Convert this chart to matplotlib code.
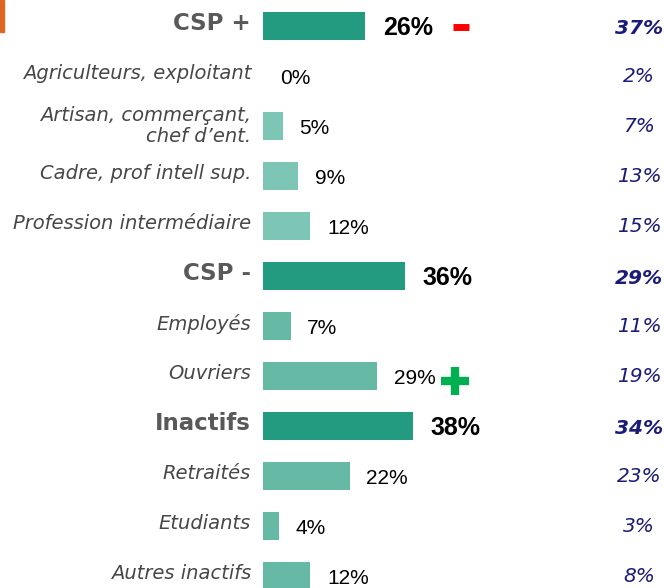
"""
CSP breakdown - horizontal bars with comparison column
"""

import matplotlib.pyplot as plt
from matplotlib.patches import Rectangle

W, H = 666, 588
DPI = 100

labels = ["CSP +", "Agriculteurs, exploitant", "Artisan, commerçant,\nchef d\u2019ent.",
          "Cadre, prof intell sup.", "Profession intermédiaire", "CSP -",
          "Employés", "Ouvriers", "Inactifs", "Retraités", "Etudiants",
          "Autres inactifs"]
values = [26, 0, 5, 9, 12, 36, 7, 29, 38, 22, 4, 12]
compare = [37, 2, 7, 13, 15, 29, 11, 19, 34, 23, 3, 8]
is_group = [True, False, False, False, False, True, False, False, True, False, False, False]
# trend signs next to some values: row -> sign
trends = {0: "-", 7: "+"}

GROUP_COLOR = "#239B80"
SUB_COLOR_TOP = "#7DC6B5"
SUB_COLOR = "#66B9A5"
NAVY = "#1B1B7A"

PX_PER_PCT = 3.94
BAR_X0 = 263
ROW0 = 26
ROW_STEP = 50


def main():
    fig = plt.figure(figsize=(W / DPI, H / DPI), dpi=DPI)
    ax = fig.add_axes([BAR_X0 / W, 0, 1 - BAR_X0 / W, 1])
    ax.set_xlim(0, (W - BAR_X0) / PX_PER_PCT)
    ax.set_ylim((H - ROW0) / ROW_STEP, -ROW0 / ROW_STEP)
    ax.axis("off")

    rows = list(range(len(labels)))
    colors = []
    for i, g in enumerate(is_group):
        if g:
            colors.append(GROUP_COLOR)
        elif i < 5:
            colors.append(SUB_COLOR_TOP)
        else:
            colors.append(SUB_COLOR)
    ax.barh(rows, values, height=0.56, color=colors, left=0)

    ytr = ax.get_yaxis_transform()
    left_x = (251 - BAR_X0) / (W - BAR_X0)
    right_x = (639 - BAR_X0) / (W - BAR_X0)

    for i in rows:
        if is_group[i]:
            ax.text(left_x, i - 0.04, labels[i], transform=ytr, ha="right",
                    va="center", fontsize=16.5, fontweight="bold", color="#595959",
                    clip_on=False)
            ax.annotate(f"{values[i]}%", (values[i], i), xytext=(13, -1.5),
                        textcoords="offset points", ha="left", va="center",
                        fontsize=18, fontweight="bold", family="Liberation Sans",
                        color="black")
            ax.text(right_x, i + 0.06, f"{compare[i]}%", transform=ytr, ha="center",
                    va="center", fontsize=14.5, fontweight="bold", style="italic",
                    color=NAVY)
        else:
            dy = 0.0 if "\n" in labels[i] else -0.05
            ax.text(left_x, i + dy, labels[i], transform=ytr, ha="right",
                    va="center", fontsize=14, style="italic", color="#474747",
                    multialignment="right", linespacing=1.1, clip_on=False)
            ax.annotate(f"{values[i]}%", (values[i], i), xytext=(12, -1.5),
                        textcoords="offset points", ha="left", va="center",
                        fontsize=15, family="Liberation Sans", color="black")
            ax.text(right_x, i, f"{compare[i]}%", transform=ytr, ha="center",
                    va="center", fontsize=14.5, style="italic", color=NAVY)

    for i, sign in trends.items():
        if sign == "-":
            ax.plot([values[i] + 95.5 / PX_PER_PCT], [i + 0.02], marker="_",
                    ms=11, mew=5, color="#FF0000", clip_on=False)
        else:
            ax.plot([values[i] + 78 / PX_PER_PCT], [i + 0.1], marker="+",
                    ms=20, mew=6, color="#00B050", clip_on=False)

    # small orange accent at top-left corner
    fig.patches.append(Rectangle((0, 1 - 32 / H), 4 / W, 32 / H,
                                 transform=fig.transFigure, color="#E0651F"))

    fig.savefig("out.png", dpi=DPI)


if __name__ == "__main__":
    main()
